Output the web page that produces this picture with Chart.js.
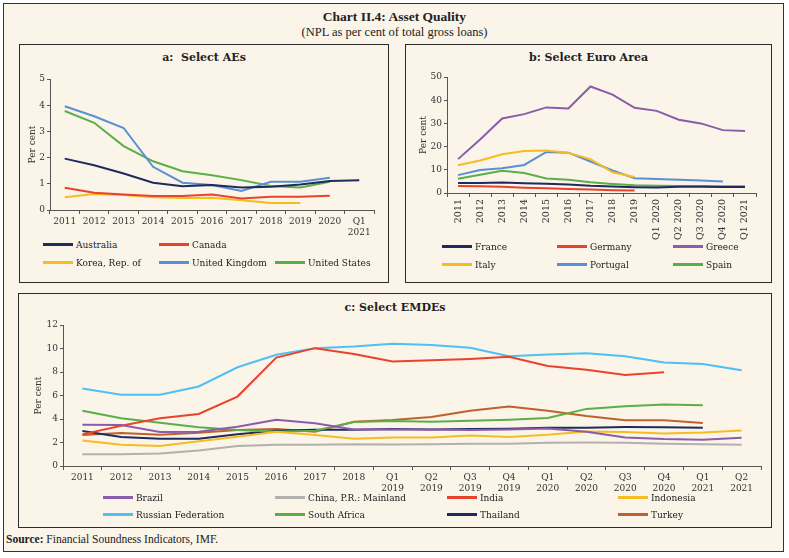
<!DOCTYPE html>
<html>
<head>
<meta charset="utf-8">
<script src="https://cdn.jsdelivr.net/npm/chart.js@4.4.1/dist/chart.umd.min.js"></script>
<style>
body{margin:0;background:#fff;width:789px;height:558px;overflow:hidden;font-family:"DejaVu Serif",serif;color:#222;}
.abs{position:absolute;}
#frame{left:3px;top:3px;width:781px;height:549px;border:1.5px solid #333;background:#faf4e9;box-sizing:border-box;}
.panel{border:1.5px solid #2b2b2b;box-sizing:border-box;}
.ptitle{font-weight:bold;font-size:11px;text-align:center;white-space:nowrap;}
.leg{font-size:9px;white-space:nowrap;line-height:12px;}
.leg span.sw{display:inline-block;width:30px;height:3px;vertical-align:middle;margin-right:3px;margin-top:-2px;}
#title{left:0;width:789px;top:9px;text-align:center;font-family:"Liberation Serif",serif;font-weight:bold;font-size:13.5px;}
#subtitle{left:0;width:789px;top:25px;text-align:center;font-family:"Liberation Serif",serif;font-size:12.5px;}
#source{left:6px;top:533px;font-family:"Liberation Serif",serif;font-size:11.5px;}
</style>
</head>
<body>
<div id="frame" class="abs"></div>
<div id="title" class="abs">Chart II.4: Asset Quality</div>
<div id="subtitle" class="abs">(NPL as per cent of total gross loans)</div>

<div class="abs panel" style="left:19px;top:44px;width:370px;height:239px;"></div>
<div class="abs panel" style="left:405px;top:44px;width:367px;height:239px;"></div>
<div class="abs panel" style="left:18px;top:293px;width:754px;height:235px;"></div>

<div class="abs ptitle" style="left:19px;width:370px;top:51px;">a:&nbsp; Select AEs</div>
<div class="abs ptitle" style="left:405px;width:367px;top:51px;">b: Select Euro Area</div>
<div class="abs ptitle" style="left:18px;width:754px;top:301px;">c: Select EMDEs</div>

<canvas id="chartA" class="abs" width="360" height="165" style="left:20px;top:70px;"></canvas>
<canvas id="chartB" class="abs" width="357" height="177" style="left:405px;top:68px;"></canvas>
<canvas id="chartC" class="abs" width="745" height="178" style="left:22px;top:316px;"></canvas>

<div id="legends"></div>
<div id="source" class="abs"><b>Source:</b> Financial Soundness Indicators, IMF.</div>

<script>
// colours used across the three panels
var navy = '#1f2b5e';
var red = '#e8432d';
var purple = '#8b5cab';
var yellow = '#f5bd22';
var blue = '#5b8fd4';
var green = '#5aaf48';
var skyBlue = '#4fc0f2';
var grey = '#b3b1ad';
var brown = '#c0612b';

// ---- panel a: Select AEs ----
var aeLabels = ['2011','2012','2013','2014','2015','2016','2017','2018','2019','2020',['Q1','2021']];
var australia = [1.96, 1.71, 1.39, 1.04, 0.91, 0.95, 0.86, 0.89, 0.97, 1.11, 1.14];
var canada = [0.85, 0.66, 0.59, 0.53, 0.53, 0.59, 0.44, 0.51, 0.51, 0.54, null];
var korea = [0.49, 0.61, 0.57, 0.49, 0.46, 0.47, 0.37, 0.27, 0.27, null, null];
var unitedKingdom = [3.96, 3.58, 3.13, 1.65, 1.04, 0.95, 0.73, 1.08, 1.08, 1.23, null];
var unitedStates = [3.78, 3.33, 2.44, 1.86, 1.48, 1.33, 1.14, 0.92, 0.86, 1.08, null];

// ---- panel b: Select Euro Area ----
var euroLabels = ['2011','2012','2013','2014','2015','2016','2017','2018','2019','Q1 2020','Q2 2020','Q3 2020','Q4 2020','Q1 2021'];
var france = [4.3, 4.3, 4.5, 4.2, 4.0, 3.7, 3.1, 2.8, 2.5, 2.4, 2.7, 2.7, 2.6, 2.6];
var germany = [3.0, 2.9, 2.7, 2.3, 2.0, 1.7, 1.5, 1.2, 1.1, null, null, null, null, null];
var greece = [14.6, 23.1, 32.1, 34.0, 36.9, 36.4, 45.9, 42.4, 36.7, 35.4, 31.6, 30.0, 27.1, 26.7];
var italy = [12.0, 14.0, 16.7, 18.1, 18.3, 17.3, 14.6, 8.9, 6.9, null, null, null, null, null];
var portugal = [7.7, 9.9, 10.7, 12.1, 17.7, 17.4, 13.6, 9.7, 6.4, 6.0, 5.7, 5.4, 5.0, null];
var spain = [6.1, 7.9, 9.6, 8.6, 6.3, 5.7, 4.6, 3.9, 3.3, 3.1, 3.0, 3.0, 2.9, 2.9];

// ---- panel c: Select EMDEs ----
var emdeLabels = ['2011','2012','2013','2014','2015','2016','2017','2018',
  ['Q1','2019'],['Q2','2019'],['Q3','2019'],['Q4','2019'],
  ['Q1','2020'],['Q2','2020'],['Q3','2020'],['Q4','2020'],
  ['Q1','2021'],['Q2','2021']];
var brazil = [3.51, 3.49, 2.89, 2.91, 3.34, 3.94, 3.63, 3.11, 3.11, 3.11, 3.06, 3.11, 3.2, 2.91, 2.43, 2.29, 2.23, 2.4];
var china = [1.0, 1.0, 1.06, 1.31, 1.71, 1.8, 1.8, 1.86, 1.83, 1.86, 1.89, 1.89, 1.97, 2.0, 1.97, 1.89, 1.86, 1.8];
var india = [2.69, 3.43, 4.06, 4.43, 5.91, 9.23, 10.03, 9.54, 8.89, 9.0, 9.11, 9.29, 8.51, 8.2, 7.74, 7.97, null, null];
var indonesia = [2.17, 1.8, 1.71, 2.11, 2.49, 2.91, 2.63, 2.31, 2.43, 2.43, 2.6, 2.46, 2.66, 2.94, 2.89, 2.77, 2.86, 3.03];
var russia = [6.6, 6.06, 6.06, 6.77, 8.4, 9.46, 10.03, 10.17, 10.4, 10.29, 10.06, 9.34, 9.49, 9.6, 9.34, 8.8, 8.69, 8.14];
var southAfrica = [4.71, 4.06, 3.69, 3.29, 3.06, 2.91, 3.0, 3.74, 3.83, 3.77, 3.86, 3.94, 4.09, 4.86, 5.09, 5.23, 5.17, null];
var thailand = [2.97, 2.46, 2.31, 2.31, 2.71, 3.0, 3.09, 3.09, 3.14, 3.11, 3.14, 3.17, 3.26, 3.26, 3.31, 3.29, 3.26, null];
var turkey = [2.63, 2.8, 2.66, 2.83, 3.06, 3.14, 2.91, 3.77, 3.91, 4.17, 4.71, 5.06, 4.71, 4.26, 3.89, 3.89, 3.66, null];

var tickFont = {family: 'DejaVu Serif', size: 9};

function series(name, values, colour){
  return {label: name, data: values, borderColor: colour, backgroundColor: colour,
    borderWidth: 2, pointRadius: 0, tension: 0, fill: false, spanGaps: false};
}

function buildChart(id, labels, datasets, yMax, yStep, yWidth, xHeight, rotate, titlePad){
  var ctx = document.getElementById(id).getContext('2d');
  return new Chart(ctx, {
    type: 'line',
    data: {labels: labels, datasets: datasets},
    options: {
      responsive: false,
      animation: false,
      layout: {padding: {top: 9, right: 6, left: 0, bottom: 0}},
      plugins: {legend: {display: false}, tooltip: {enabled: false}},
      scales: {
        x: {
          offset: true,
          grid: {display: true, offset: true, drawOnChartArea: false, drawTicks: true, tickLength: 4, color: '#555'},
          border: {display: true, color: '#555', width: 1},
          ticks: {color: '#333', font: rotate ? {family: 'DejaVu Serif', size: 9.5} : tickFont, autoSkip: false, padding: 2,
            maxRotation: rotate ? 90 : 0, minRotation: rotate ? 90 : 0},
          afterFit: function(scale){ scale.height = xHeight; }
        },
        y: {
          min: 0, max: yMax,
          grid: {display: true, drawOnChartArea: false, drawTicks: true, tickLength: 3, color: '#555'},
          border: {display: true, color: '#555', width: 1},
          ticks: {color: '#333', font: tickFont, stepSize: yStep, padding: 2},
          title: {display: true, text: 'Per cent', color: '#333', font: tickFont, padding: {top: titlePad, bottom: 0}},
          afterFit: function(scale){ scale.width = yWidth; }
        }
      }
    }
  });
}

var aeSets = [
  series('Australia', australia, navy),
  series('Canada', canada, red),
  series('Korea, Rep. of', korea, yellow),
  series('United Kingdom', unitedKingdom, blue),
  series('United States', unitedStates, green)
];
var euroSets = [
  series('France', france, navy),
  series('Germany', germany, red),
  series('Greece', greece, purple),
  series('Italy', italy, yellow),
  series('Portugal', portugal, blue),
  series('Spain', spain, green)
];
var emdeSets = [
  series('Brazil', brazil, purple),
  series('China, P.R.: Mainland', china, grey),
  series('India', india, red),
  series('Indonesia', indonesia, yellow),
  series('Russian Federation', russia, skyBlue),
  series('South Africa', southAfrica, green),
  series('Thailand', thailand, navy),
  series('Turkey', turkey, brown)
];

buildChart('chartA', aeLabels, aeSets, 5, 1, 30, 25, false, 7);
buildChart('chartB', euroLabels, euroSets, 50, 5, 42, 52, true, 13);
buildChart('chartC', emdeLabels, emdeSets, 12, 2, 41, 28, false, 11);

// legends as html, laid out in a grid like the original
function legend(sets, cols, rows, perRow){
  var holder = document.getElementById('legends');
  for (var i = 0; i < sets.length; i++){
    var d = document.createElement('div');
    d.className = 'abs leg';
    d.style.left = cols[i % perRow] + 'px';
    d.style.top = (rows[Math.floor(i / perRow)] - 6) + 'px';
    d.innerHTML = '<span class="sw" style="background:' + sets[i].borderColor + '"></span>' + sets[i].label;
    holder.appendChild(d);
  }
}
// panel a has 2 on the first row, 3 on the second
legend(aeSets.slice(0, 2), [43, 159], [245], 2);
legend(aeSets.slice(2), [43, 159, 275], [263], 3);
legend(euroSets, [442, 557, 673], [247, 265], 3);
legend(emdeSets, [103, 275, 447, 618], [498, 515], 4);
</script>
</body>
</html>
